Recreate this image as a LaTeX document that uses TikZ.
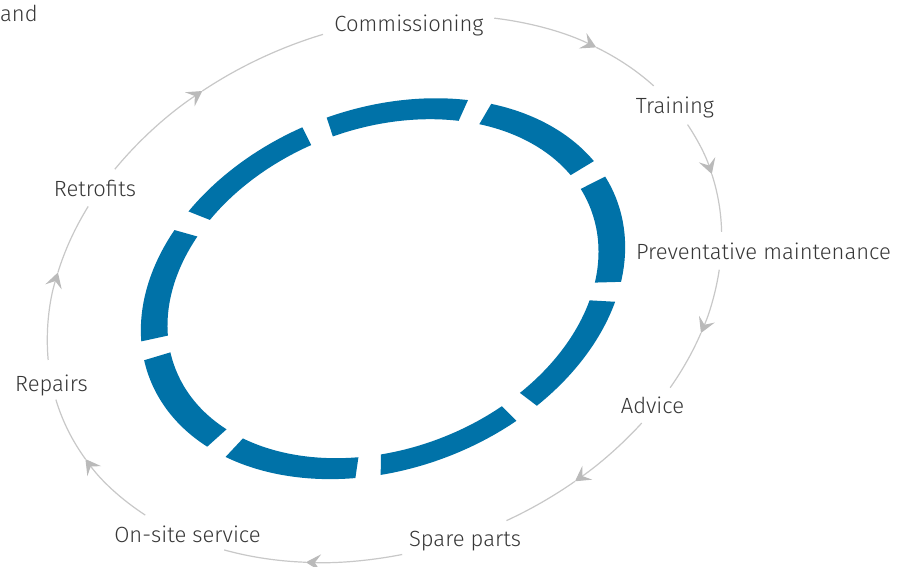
\documentclass[tikz,border=0pt]{standalone}
\usepackage{fontspec}
\setmainfont{Fira Sans Light}
\usetikzlibrary{arrows.meta}
\definecolor{ringblue}{RGB}{0,114,168}
\definecolor{cycgray}{RGB}{200,200,200}
\definecolor{tipgray}{RGB}{186,186,186}
\definecolor{txtgray}{RGB}{55,55,55}
\begin{document}
\begin{tikzpicture}[x=1pt,y=1pt,
  lbl/.style={font=\fontsize{22}{26}\selectfont, text=txtgray, inner sep=0pt, anchor=base},
  cycline/.style={draw=cycgray, line width=1.2pt},
  cycarrow/.style={cycline, -{Stealth[length=15pt,width=17pt,inset=6pt,color=tipgray]}},
  seg/.style={fill=ringblue}]
\useasboundingbox (0,0) rectangle (908,567);
\fill[white] (0,0) rectangle (908,567);
% labels
\node[lbl] (comm) at (409,535.5) {Commissioning};
\node[lbl] (train) at (675,453) {Training};
\node[lbl] (prev) at (763.5,307) {Preventative maintenance};
\node[lbl] (adv) at (652.5,153.5) {Advice};
\node[lbl] (spare) at (465,20) {Spare parts};
\node[lbl] (onsite) at (187.5,24) {On-site service};
\node[lbl] (rep) at (51.5,175) {Repairs};
\node[lbl] (retro) at (95,370) {Retrofits};
\node[lbl, anchor=base west] (andtxt) at (0,545.7) {and};
% blue segmented ring
\begin{scope}[shift={(383,278.3)}, rotate=21]
\foreach \s in {14,54,...,334} {
  \pgfmathsetmacro\e{\s+34}
  \fill[seg] (\s:250pt and 180pt) arc[start angle=\s, end angle=\e, x radius=250pt, y radius=180pt]
    -- (\e:222.5pt and 160.2pt) arc[start angle=\e, end angle=\s, x radius=222.5pt, y radius=160.2pt] -- cycle;
}
\end{scope}
% outer cycle with arrows
\begin{scope}[shift={(384.5,278)}, rotate=21]
\foreach \a/\m/\b in {54.9/35.0/20.9, 9.9/-2.2/-15.0, -23.0/-36.3/-48.2, -56.4/-71.7/-84.9,
    -103.1/-119.6/-134.5, -151.3/-168.6/-183.2, 168.0/149.5/135.4, 127.0/106.6/84.4} {
  \draw[cycarrow] (\a:347pt and 261pt) arc[start angle=\a, end angle=\m, x radius=347pt, y radius=261pt];
  \draw[cycline] (\m:347pt and 261pt) arc[start angle=\m, end angle=\b, x radius=347pt, y radius=261pt];
}
\end{scope}
\end{tikzpicture}
\end{document}
